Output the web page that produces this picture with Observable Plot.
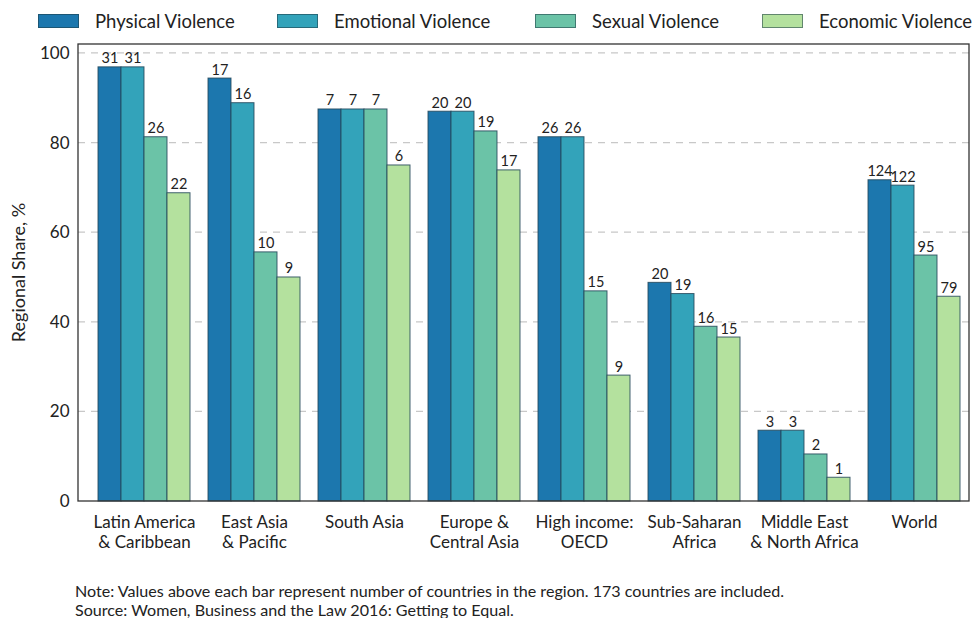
<!DOCTYPE html>
<html>
<head>
<meta charset="utf-8">
<script src="https://cdn.jsdelivr.net/npm/d3@7"></script>
<script src="https://cdn.jsdelivr.net/npm/@observablehq/plot@0.6"></script>
<style>
  body { margin: 0; background: #fff; font-family: Lato, "Open Sans", sans-serif; color: #222; }
  #wrap { position: relative; width: 976px; height: 618px; overflow: hidden; }
  #legend { position: absolute; left: 0; top: 0; width: 976px; height: 40px; }
  .item { position: absolute; top: 10px; height: 22px; display: flex; align-items: center; font-size: 18.5px; white-space: nowrap; }
  .sw { width: 41px; height: 14px; margin-right: 16px; box-sizing: border-box; border: 1px solid rgba(30,60,70,0.55); }
  #chart { position: absolute; left: 0; top: 40px; }
  #note { position: absolute; left: 75px; top: 581px; font-family: Lato, "Open Sans", sans-serif; font-size: 16.1px; line-height: 19px; }
</style>
</head>
<body>
<div id="wrap">
  <div id="legend"></div>
  <div id="chart"></div>
  <div id="note">Note: Values above each bar represent number of countries in the region. 173 countries are included.<br>Source: Women, Business and the Law 2016: Getting to Equal.</div>
</div>
<script>
const regions = ["Latin America\n& Caribbean", "East Asia\n& Pacific", "South Asia", "Europe &\nCentral Asia", "High income:\nOECD", "Sub-Saharan\nAfrica", "Middle East\n& North Africa", "World"];
const types = ["Physical Violence", "Emotional Violence", "Sexual Violence", "Economic Violence"];
const colors = ["#1c77ae", "#33a3ba", "#6bc3a7", "#b4e19e"];

// Regional share, %
const physical  = [96.9, 94.4, 87.5, 87.0, 81.3, 48.8, 15.8, 71.7];
const emotional = [96.9, 88.9, 87.5, 87.0, 81.3, 46.3, 15.8, 70.5];
const sexual    = [81.3, 55.6, 87.5, 82.6, 46.9, 39.0, 10.5, 54.9];
const economic  = [68.8, 50.0, 75.0, 73.9, 28.1, 36.6,  5.3, 45.7];

// Number of countries (labels above bars)
const physicalN  = [31, 17, 7, 20, 26, 20, 3, 124];
const emotionalN = [31, 16, 7, 20, 26, 19, 3, 122];
const sexualN    = [26, 10, 7, 19, 15, 16, 2, 95];
const economicN  = [22,  9, 6, 17,  9, 15, 1, 79];

const yTicks = [0, 20, 40, 60, 80, 100];
const gridTicks = [20, 40, 60, 80, 100];

const series = [physical, emotional, sexual, economic];
const counts = [physicalN, emotionalN, sexualN, economicN];
const data = [];
regions.forEach((r, i) => {
  types.forEach((t, j) => {
    data.push({region: r, type: t, value: series[j][i], n: counts[j][i]});
  });
});

// Legend
const legendX = [38, 277, 535, 762];
const legend = document.getElementById("legend");
types.forEach((t, j) => {
  const it = document.createElement("div");
  it.className = "item";
  it.style.left = legendX[j] + "px";
  it.innerHTML = `<span class="sw" style="background:${colors[j]}"></span><span>${t}</span>`;
  legend.appendChild(it);
});

const mLeft = 78, mRight = 7;
const plot = Plot.plot({
  width: 976,
  height: 520,
  marginTop: 4,
  marginBottom: 59,
  marginLeft: mLeft,
  marginRight: mRight,
  style: { fontFamily: "Lato, 'Open Sans', sans-serif", fontSize: "16px", color: "#222", background: "#fff" },
  fx: { domain: regions, paddingInner: 0.166, paddingOuter: 0.113, align: 0.68, label: null },
  x: { domain: types, padding: 0, axis: null },
  y: { domain: [0, 102], label: null },
  color: { domain: types, range: colors },
  marks: [
    Plot.barY(data, { fx: "region", x: "type", y: "value", fill: "type", stroke: "#24485a", strokeWidth: 1, strokeOpacity: 0.85 }),
    Plot.text(data, { fx: "region", x: "type", y: "value", text: "n", lineAnchor: "bottom", dy: -4, fontSize: 14.5, fill: "#222" }),
    Plot.axisY(yTicks, { tickSize: 0, tickPadding: 29, fontSize: 17, label: null }),
    Plot.axisFx({ anchor: "bottom", tickSize: 0, tickPadding: 12, fontSize: 17, lineHeight: 1.2, label: null })
  ]
});
document.getElementById("chart").appendChild(plot);

// Full-width dashed gridlines (behind bars), frame, and y-axis title
const svg = d3.select(plot);
const yScale = plot.scale("y");
const yr = yScale.range; // [bottom, top]
const right = 976 - mRight;
const grid = svg.insert("g", "g");
gridTicks.forEach(v => {
  const yy = yScale.apply(v);
  grid.append("line")
    .attr("x1", mLeft).attr("x2", right).attr("y1", yy).attr("y2", yy)
    .attr("stroke", "#c8c8c8").attr("stroke-width", 1.3).attr("stroke-dasharray", "7,6");
});
svg.append("rect")
  .attr("x", mLeft).attr("y", yr[1])
  .attr("width", right - mLeft).attr("height", yr[0] - yr[1])
  .attr("fill", "none").attr("stroke", "#333").attr("stroke-width", 1.3);
svg.append("text")
  .attr("transform", `translate(20,${(yr[0] + yr[1]) / 2}) rotate(-90)`)
  .attr("text-anchor", "middle").attr("dominant-baseline", "middle")
  .attr("font-size", 18).attr("fill", "#222")
  .text("Regional Share, %");
</script>
</body>
</html>
